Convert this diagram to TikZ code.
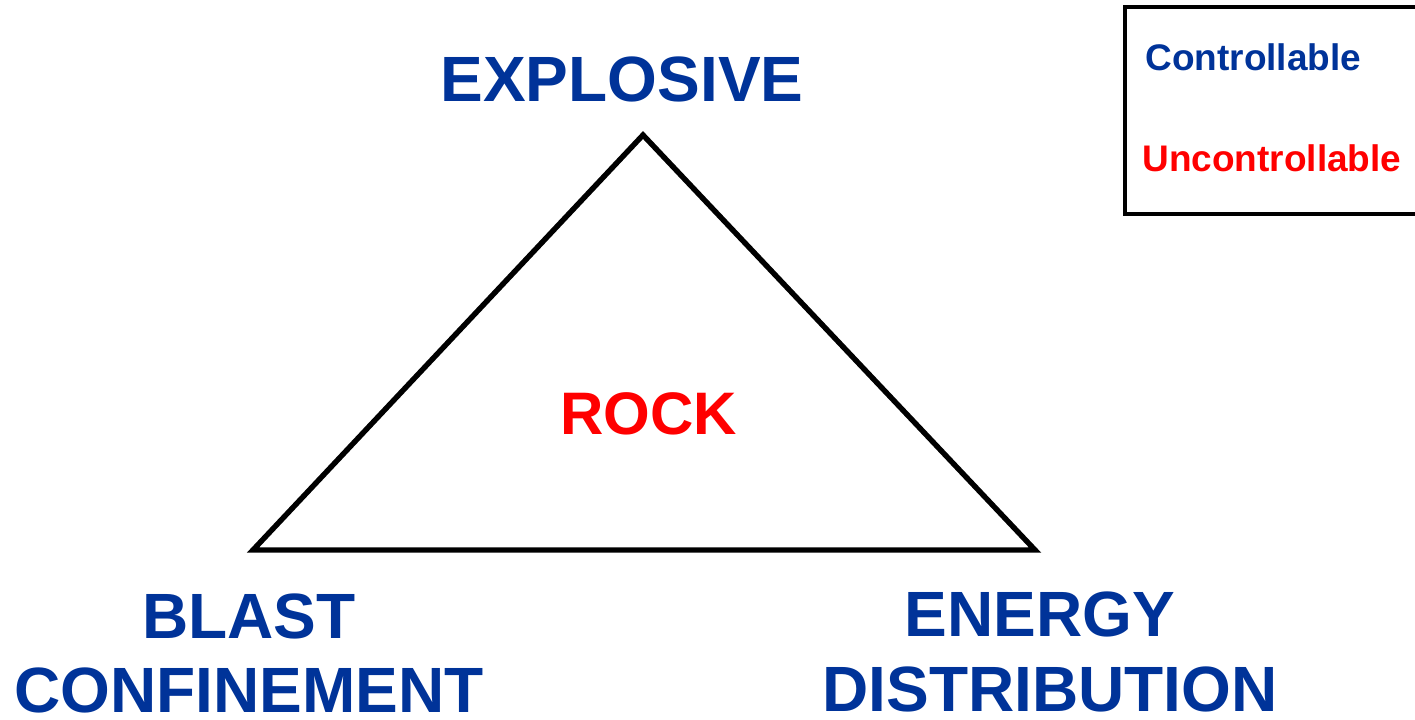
\documentclass[tikz,border=0pt]{standalone}
\usepackage{fontspec}
\setmainfont{Liberation Sans}
\usepackage{xcolor}
\usetikzlibrary{positioning,calc}
\definecolor{ctrlblue}{HTML}{003399}
\definecolor{unctrlred}{HTML}{FF0000}
\definecolor{ink}{HTML}{000000}
\tikzset{
  bigword/.style={
    text=ctrlblue, align=center, inner sep=0pt,
    font=\bfseries\fontsize{32}{37}\selectfont
  },
  rockword/.style={
    text=unctrlred, inner sep=0pt,
    font=\bfseries\fontsize{30}{36}\selectfont
  },
  keyword/.style={
    inner sep=0pt, anchor=west,
    font=\bfseries\fontsize{18.5}{22}\selectfont
  },
  triline/.style={draw=ink, line width=2.7pt, line join=miter},
  keybox/.style={draw=ink, line width=2pt}
}
\begin{document}
\begin{tikzpicture}[x=0.5pt,y=-0.5pt]
  \useasboundingbox (0,0) rectangle (1415,719);
  % corners of the triangle
  \coordinate (top) at (643,135);
  \coordinate (left) at (253,550);
  \coordinate (right) at (1035,550);
  \draw[triline] (top) -- (right) -- (left) -- cycle;
  % labels
  \node[bigword] (explosive) at (622,79) {EXPLOSIVE};
  \node[rockword] (rock) at (649,414) {ROCK};
  \node[bigword] (blast) at (249,653) {BLAST\\CONFINEMENT};
  \node[bigword] (energy) at (1040,614) {ENERGY};
  \node[bigword] (distribution) at (1050,689) {DISTRIBUTION};
  % legend
  \draw[keybox] (1125,7) rectangle (1425,214);
  \node[keyword,text=ctrlblue] (ctrl) at (1145,57) {Controllable};
  \node[keyword,text=unctrlred] (unctrl) at (1142,158) {Uncontrollable};
\end{tikzpicture}
\end{document}
